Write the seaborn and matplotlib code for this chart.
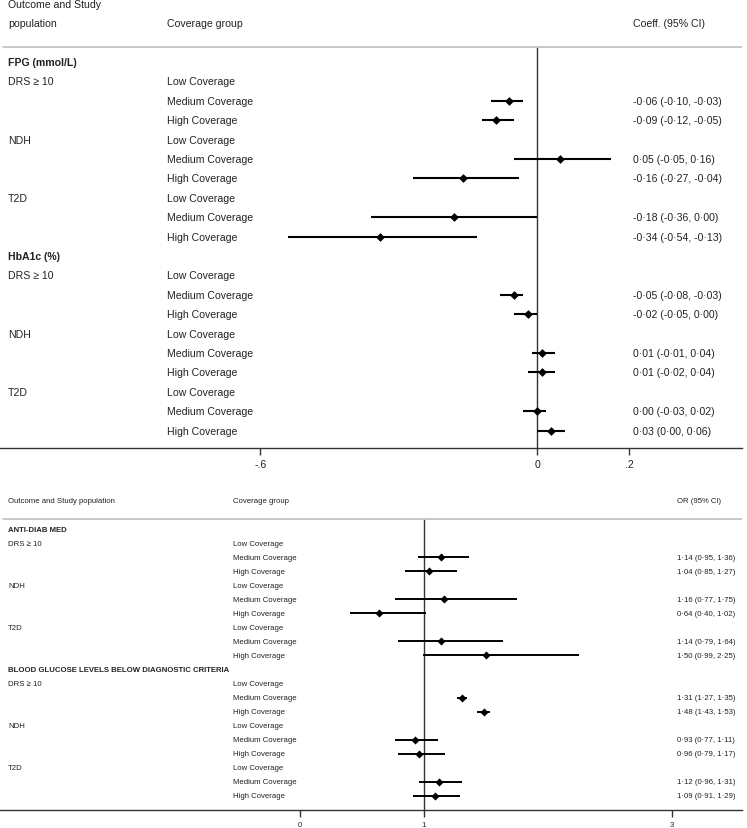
# Forest plots: coverage groups vs glucose outcomes
import numpy as np
import pandas as pd
import matplotlib
matplotlib.use("Agg")
import matplotlib.pyplot as plt
import matplotlib.transforms as mtrans
import seaborn as sns

# labels shared by both panels
populations = ["DRS ≥ 10", "NDH", "T2D"]
coverage = ["Low Coverage", "Medium Coverage", "High Coverage"]

# top panel: coefficients (Low Coverage is the reference, no estimate)
coef_outcomes = ["FPG (mmol/L)", "HbA1c (%)"]
fpg_est = [np.nan, -0.06, -0.09, np.nan, 0.05, -0.16, np.nan, -0.18, -0.34]
fpg_lo = [np.nan, -0.10, -0.12, np.nan, -0.05, -0.27, np.nan, -0.36, -0.54]
fpg_hi = [np.nan, -0.03, -0.05, np.nan, 0.16, -0.04, np.nan, 0.00, -0.13]
hba1c_est = [np.nan, -0.05, -0.02, np.nan, 0.01, 0.01, np.nan, 0.00, 0.03]
hba1c_lo = [np.nan, -0.08, -0.05, np.nan, -0.01, -0.02, np.nan, -0.03, 0.00]
hba1c_hi = [np.nan, -0.03, 0.00, np.nan, 0.04, 0.04, np.nan, 0.02, 0.06]
coef_ticks = [-0.6, 0, 0.2]
coef_ticklabels = ["-.6", "0", ".2"]

# bottom panel: odds ratios
or_outcomes = ["ANTI-DIAB MED", "BLOOD GLUCOSE LEVELS BELOW DIAGNOSTIC CRITERIA"]
med_est = [np.nan, 1.14, 1.04, np.nan, 1.16, 0.64, np.nan, 1.14, 1.50]
med_lo = [np.nan, 0.95, 0.85, np.nan, 0.77, 0.40, np.nan, 0.79, 0.99]
med_hi = [np.nan, 1.36, 1.27, np.nan, 1.75, 1.02, np.nan, 1.64, 2.25]
bgl_est = [np.nan, 1.31, 1.48, np.nan, 0.93, 0.96, np.nan, 1.12, 1.09]
bgl_lo = [np.nan, 1.27, 1.43, np.nan, 0.77, 0.79, np.nan, 0.96, 0.91]
bgl_hi = [np.nan, 1.35, 1.53, np.nan, 1.11, 1.17, np.nan, 1.31, 1.29]
or_ticks = [0, 1, 3]
or_ticklabels = ["0", "1", "3"]


def fmt(v):
    return f"{v:.2f}".replace(".", "·")


def make_frame(est_lists, lo_lists, hi_lists):
    rows = []
    for o in range(len(est_lists)):
        for i in range(9):
            rows.append({
                "row": o * 10 + 1 + i,
                "pop": populations[i // 3] if i % 3 == 0 else "",
                "group": coverage[i % 3],
                "est": est_lists[o][i],
                "lo": lo_lists[o][i],
                "hi": hi_lists[o][i],
            })
    return pd.DataFrame(rows)


coef_df = make_frame([fpg_est, hba1c_est], [fpg_lo, hba1c_lo], [fpg_hi, hba1c_hi])
or_df = make_frame([med_est, bgl_est], [med_lo, bgl_lo], [med_hi, bgl_hi])

sns.set_style("white")
plt.rcParams["font.family"] = ["Liberation Sans", "DejaVu Sans"]
txt = "#222222"
axcol = "#333333"


def draw_panel(ax, df, outcomes, ref, fs, cols, ylim, xlim, ticks, ticklabels, ms, lw, sep_y):
    # CI lines then diamonds
    d = df.dropna(subset=["est"])
    ax.hlines(d["row"], d["lo"], d["hi"], color="black", lw=lw, zorder=3)
    sns.scatterplot(data=d, x="est", y="row", marker="D", s=ms, color="black",
                    linewidth=0, ax=ax, legend=False, zorder=4)
    ax.set_xlim(*xlim)
    ax.set_ylim(*ylim)
    ax.set_xlabel("")
    ax.set_ylabel("")
    ax.set_yticks([])
    ax.set_xticks(ticks)
    ax.set_xticklabels(ticklabels)
    ax.tick_params(axis="x", bottom=True, length=5, width=1, color=axcol,
                   labelsize=fs, labelcolor=txt, pad=3)
    for s in ["top", "left", "right"]:
        ax.spines[s].set_visible(False)
    ax.spines["bottom"].set_color(axcol)
    ax.spines["bottom"].set_linewidth(1)

    # reference line and header separator
    ax.vlines(ref, sep_y, ylim[0], color=axcol, lw=1, zorder=2)
    ax.axhline(sep_y, xmin=0.004, xmax=1, color="#c4c4c4", lw=1.3)

    tr = mtrans.blended_transform_factory(ax.transAxes, ax.transData)
    for o, name in enumerate(outcomes):
        ax.text(cols[0], o * 10, name, transform=tr, fontsize=fs, color=txt,
                weight="bold", va="center")
    for _, r in df.iterrows():
        ax.text(cols[0], r["row"], r["pop"], transform=tr, fontsize=fs, color=txt, va="center")
        ax.text(cols[1], r["row"], r["group"], transform=tr, fontsize=fs, color=txt, va="center")
        if not np.isnan(r["est"]):
            label = f"{fmt(r['est'])} ({fmt(r['lo'])}, {fmt(r['hi'])})"
            ax.text(cols[2], r["row"], label, transform=tr, fontsize=fs, color=txt, va="center")
    return tr


fig = plt.figure(figsize=(7.47, 8.29), dpi=100)
W = 742.0

# top panel
ax1 = fig.add_axes([0, (829 - 449) / 829, W / 747, 449 / 829])
tr1 = draw_panel(ax1, coef_df, coef_outcomes, 0, 7.6,
                 [8 / W, 167 / W, 633 / W], (19.9, -3.25), (-537 / 461, 205 / 461),
                 coef_ticks, coef_ticklabels, 20, 1.5, -0.77)
ax1.text(8 / W, -3.0, "Outcome and Study", transform=tr1, fontsize=7.6, color=txt, va="center")
ax1.text(8 / W, -2.0, "population", transform=tr1, fontsize=7.6, color=txt, va="center")
ax1.text(167 / W, -2.0, "Coverage group", transform=tr1, fontsize=7.6, color=txt, va="center")
ax1.text(633 / W, -2.0, "Coeff. (95% CI)", transform=tr1, fontsize=7.6, color=txt, va="center")

# bottom panel
ax2 = fig.add_axes([0, (829 - 811) / 829, W / 747, (811 - 490) / 829])
tr2 = draw_panel(ax2, or_df, or_outcomes, 1, 5.6,
                 [8 / W, 233 / W, 677 / W], (20.0, -2.85), (-300 / 124, 442 / 124),
                 or_ticks, or_ticklabels, 17, 1.4, -0.71)
ax2.text(8 / W, -2.0, "Outcome and Study population", transform=tr2, fontsize=5.6, color=txt, va="center")
ax2.text(233 / W, -2.0, "Coverage group", transform=tr2, fontsize=5.6, color=txt, va="center")
ax2.text(677 / W, -2.0, "OR (95% CI)", transform=tr2, fontsize=5.6, color=txt, va="center")

fig.savefig("out.png", dpi=100)
